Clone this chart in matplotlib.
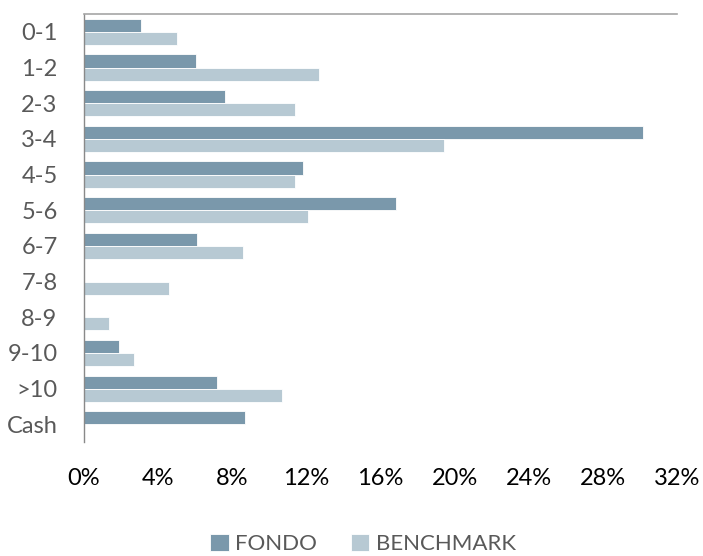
import numpy as np
import matplotlib
matplotlib.use("Agg")
import matplotlib.pyplot as plt
from matplotlib.ticker import FuncFormatter

# ---------------- datos ----------------
categorias = ["0-1", "1-2", "2-3", "3-4", "4-5", "5-6", "6-7",
              "7-8", "8-9", "9-10", ">10", "Cash"]
fondo = [3.05, 6.05, 7.6, 30.15, 11.8, 16.85, 6.1, 0.0, 0.0, 1.9, 7.15, 8.7]
benchmark = [5.0, 12.7, 11.4, 19.45, 11.4, 12.1, 8.6, 4.6, 1.35, 2.7, 10.7, 0.0]
xticks = [0, 4, 8, 12, 16, 20, 24, 28, 32]

c_fondo = "#7a98ab"
c_bench = "#b7c9d3"

plt.rcParams["font.family"] = ["Lato", "DejaVu Sans"]

fig = plt.figure(figsize=(7.03, 5.56), dpi=100)
ax = fig.add_axes([0.1195, 0.205, 0.8435, 0.7698])

y = np.arange(len(categorias))
h = 0.365
ax.barh(y - h / 2, fondo, height=h, color=c_fondo, edgecolor="white",
        linewidth=0.6, label="FONDO")
ax.barh(y + h / 2, benchmark, height=h, color=c_bench, edgecolor="white",
        linewidth=0.6, label="BENCHMARK")

ax.set_ylim(len(categorias) - 0.5, -0.5)
ax.set_xlim(0, 32)
ax.set_yticks(y)
ax.set_yticklabels(categorias, fontsize=17, color="#595959")
ax.set_xticks(xticks)
ax.xaxis.set_major_formatter(FuncFormatter(lambda v, p: f"{v:.0f}%"))
ax.tick_params(axis="x", length=0, pad=19, labelsize=17, labelcolor="black")
ax.tick_params(axis="y", length=0, pad=19)

for s in ["right", "bottom"]:
    ax.spines[s].set_visible(False)
ax.spines["left"].set_color("#898989")
ax.spines["top"].set_color("#a6a6a6")
ax.spines["left"].set_linewidth(1.0)
ax.spines["top"].set_linewidth(1.2)

fig.legend(loc="center", bbox_to_anchor=(363 / 703, 1 - 544 / 556), ncol=2,
           frameon=False, fontsize=16, labelcolor="#595959",
           handlelength=0.85, handleheight=0.85, handletextpad=0.3,
           columnspacing=1.5)

fig.savefig("out.png", dpi=100)
